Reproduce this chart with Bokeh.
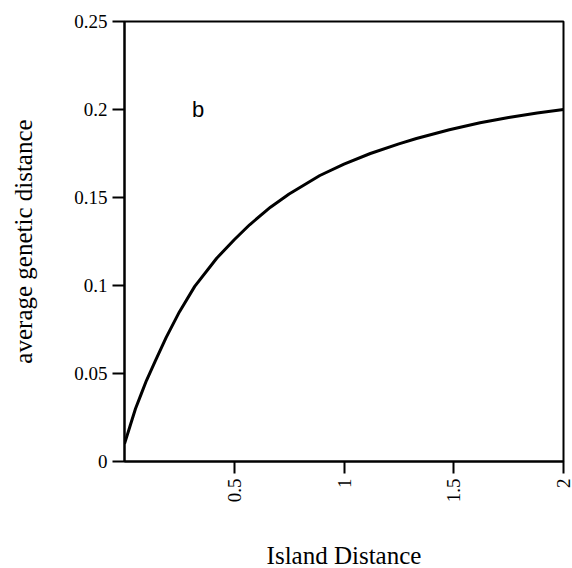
import math
from bokeh.plotting import figure
from bokeh.models import Range1d, FixedTicker, Label
from bokeh.embed import file_html
from bokeh.resources import INLINE

# values
island_distance = [0.0, 0.025, 0.05, 0.075, 0.1, 0.14, 0.19, 0.25, 0.32, 0.42, 0.5, 0.57, 0.665,
                   0.75, 0.89, 1.0, 1.12, 1.25, 1.33, 1.48, 1.62, 1.75, 1.88, 2.0]
genetic_distance = [0.010, 0.020, 0.030, 0.038, 0.046, 0.057, 0.0705, 0.085, 0.0995, 0.1155, 0.126, 0.1345, 0.1445,
                    0.152, 0.1625, 0.169, 0.175, 0.1805, 0.1835, 0.1885, 0.1925, 0.1955, 0.198, 0.200]

y_ticks = [0, 0.05, 0.1, 0.15, 0.2, 0.25]
y_tick_labels = ["0", "0.05", "0.1", "0.15", "0.2", "0.25"]
x_ticks = [0.5, 1, 1.5, 2]
x_tick_labels = ["0.5", "1", "1.5", "2"]

SERIF = "Liberation Serif"

p = figure(width=572, height=568, output_backend="svg", toolbar_location=None,
           x_range=Range1d(0, 2), y_range=Range1d(0, 0.25),
           min_border_left=124, min_border_right=9, min_border_top=21, min_border_bottom=107)
p.frame_width = 439
p.frame_height = 440

p.grid.visible = False
p.background_fill_color = "white"
p.border_fill_color = "white"
p.outline_line_color = "black"
p.outline_line_width = 2
p.outline_line_alpha = 1

p.line(island_distance, genetic_distance, line_color="black", line_width=3)

# y axis
ya = p.yaxis[0]
ya.ticker = FixedTicker(ticks=y_ticks)
ya.major_label_overrides = {t: l for t, l in zip(y_ticks, y_tick_labels)}
ya.minor_tick_line_color = None
ya.major_tick_in = 0
ya.major_tick_out = 12
ya.major_tick_line_width = 2
ya.axis_line_width = 2
ya.major_label_standoff = 5
ya.major_label_text_font = SERIF
ya.major_label_text_font_size = "19px"
ya.major_label_text_color = "black"
ya.axis_label = "average genetic distance"
ya.axis_label_text_font = SERIF
ya.axis_label_text_font_style = "normal"
ya.axis_label_text_font_size = "25px"
ya.axis_label_text_color = "black"
ya.axis_label_standoff = 34

# x axis
xa = p.xaxis[0]
xa.ticker = FixedTicker(ticks=x_ticks)
xa.major_label_overrides = {t: l for t, l in zip(x_ticks, x_tick_labels)}
xa.minor_tick_line_color = None
xa.major_tick_in = 0
xa.major_tick_out = 12
xa.major_tick_line_width = 2
xa.axis_line_width = 2
xa.major_label_standoff = 5
xa.major_label_orientation = math.pi / 2
xa.major_label_text_font = SERIF
xa.major_label_text_font_size = "19px"
xa.major_label_text_color = "black"
xa.axis_label = "Island Distance"
xa.axis_label_text_font = SERIF
xa.axis_label_text_font_style = "normal"
xa.axis_label_text_font_size = "25px"
xa.axis_label_text_color = "black"
xa.axis_label_standoff = 37

# panel letter
p.add_layout(Label(x=0.335, y=0.2, text="b", text_align="center", text_baseline="alphabetic",
                   text_font="Liberation Sans", text_font_size="22px", text_color="black"))

open("out.html", "w").write(file_html(p, INLINE))
